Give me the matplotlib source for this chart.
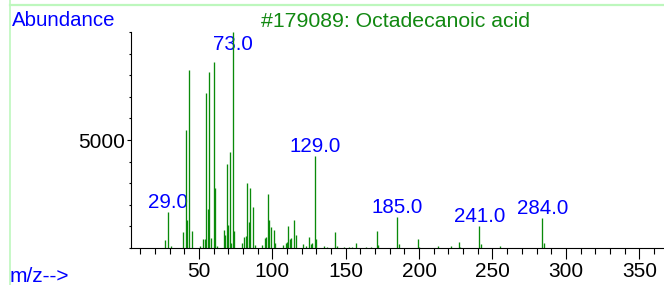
import matplotlib
matplotlib.use("Agg")
import matplotlib.pyplot as plt
from matplotlib.lines import Line2D
from matplotlib.ticker import MultipleLocator, FixedLocator

# peak list (m/z, abundance)
mz = [27, 29, 31, 39, 41, 42, 43, 45, 51, 53, 54, 55, 56, 57, 58, 60, 61, 62,
      67, 68, 69, 70, 71, 72, 73, 74, 79, 81, 82, 83, 84, 85, 87, 88,
      93, 95, 96, 97, 98, 99, 101, 102, 107, 109, 110, 111, 112, 113, 115, 116,
      121, 123, 125, 126, 127, 129, 130, 135, 137, 143, 144, 149, 152, 154, 157,
      164, 167, 171, 172, 185, 186, 199, 200, 213, 222, 227, 228, 241, 242,
      255, 284, 285]
abundance = [360, 1640, 70, 710, 5470, 1290, 8230, 770, 80, 390, 420, 7170, 1800, 8150, 430, 8640, 2760, 80,
             820, 590, 3890, 1040, 4460, 230, 9999, 775, 200, 480, 540, 2990, 1200, 2760, 1900, 120,
             120, 430, 480, 2480, 1290, 950, 820, 200, 120, 230, 280, 1010, 420, 450, 1290, 590,
             150, 100, 510, 170, 230, 4260, 400, 80, 40, 710, 60, 30, 40, 40, 200,
             30, 30, 775, 110, 1410, 170, 390, 50, 80, 60, 280, 50, 990, 170,
             80, 1380, 220]
labelled = [29, 73, 129, 185, 241, 284]

title = "#179089: Octadecanoic acid"
green = "#0a8a0a"
blue = "#0000ff"


def plot_spectrum():
    plt.rcParams['font.family'] = ['Liberation Sans', 'DejaVu Sans']
    fig = plt.figure(figsize=(6.64, 2.85), dpi=100)
    ax = fig.add_axes([0.1973, 0.1309, 0.8008, 0.7568])

    ax.vlines(mz, 0, abundance, colors=green, linewidth=0.95, zorder=2)

    ymax = 10014
    ax.set_xlim(3.7, 366)
    ax.set_ylim(0, ymax)

    # label the main peaks, keeping the text inside the plot area
    for m, a in zip(mz, abundance):
        if m in labelled:
            ax.annotate("%.1f" % m, (m, min(a, ymax * 0.895)), xytext=(0, 3),
                        textcoords="offset points", ha="center", va="baseline",
                        color=blue, fontsize=14.8, zorder=1)

    ax.xaxis.set_major_locator(MultipleLocator(50))
    ax.xaxis.set_minor_locator(MultipleLocator(10))
    ax.set_xticks([50, 100, 150, 200, 250, 300, 350])
    ax.yaxis.set_major_locator(FixedLocator([5000]))
    ax.yaxis.set_minor_locator(MultipleLocator(1000))

    ax.tick_params(axis="x", which="major", direction="out", length=8, width=0.8, pad=2.5, labelsize=15)
    ax.tick_params(axis="x", which="minor", direction="out", length=4.3, width=0.8)
    ax.tick_params(axis="y", which="major", direction="out", length=2.8, width=0.8, pad=1.5, labelsize=15)
    ax.tick_params(axis="y", which="minor", direction="out", length=1.8, width=0.8)

    for s in ["top", "right"]:
        ax.spines[s].set_visible(False)
    for s in ["left", "bottom"]:
        ax.spines[s].set_linewidth(0.8)

    fig.text(0.0173, 0.9088, "Abundance", color=blue, fontsize=14.7, ha="left", va="baseline")
    fig.text(0.5956, 0.9053, title, color="#118811", fontsize=15.3, ha="center", va="baseline")
    fig.text(0.0150, 0.0105, "m/z-->", color=blue, fontsize=15, ha="left", va="baseline")

    # light green frame lines of the viewer window
    fig.add_artist(Line2D([9.5 / 664, 1], [1 - 5 / 285, 1 - 5 / 285], color="#bdf7bd", linewidth=1.6))
    fig.add_artist(Line2D([9.5 / 664, 9.5 / 664], [0, 1], color="#bdf7bd", linewidth=1.2))

    plt.savefig("out.png", dpi=100)
    plt.close()


plot_spectrum()
